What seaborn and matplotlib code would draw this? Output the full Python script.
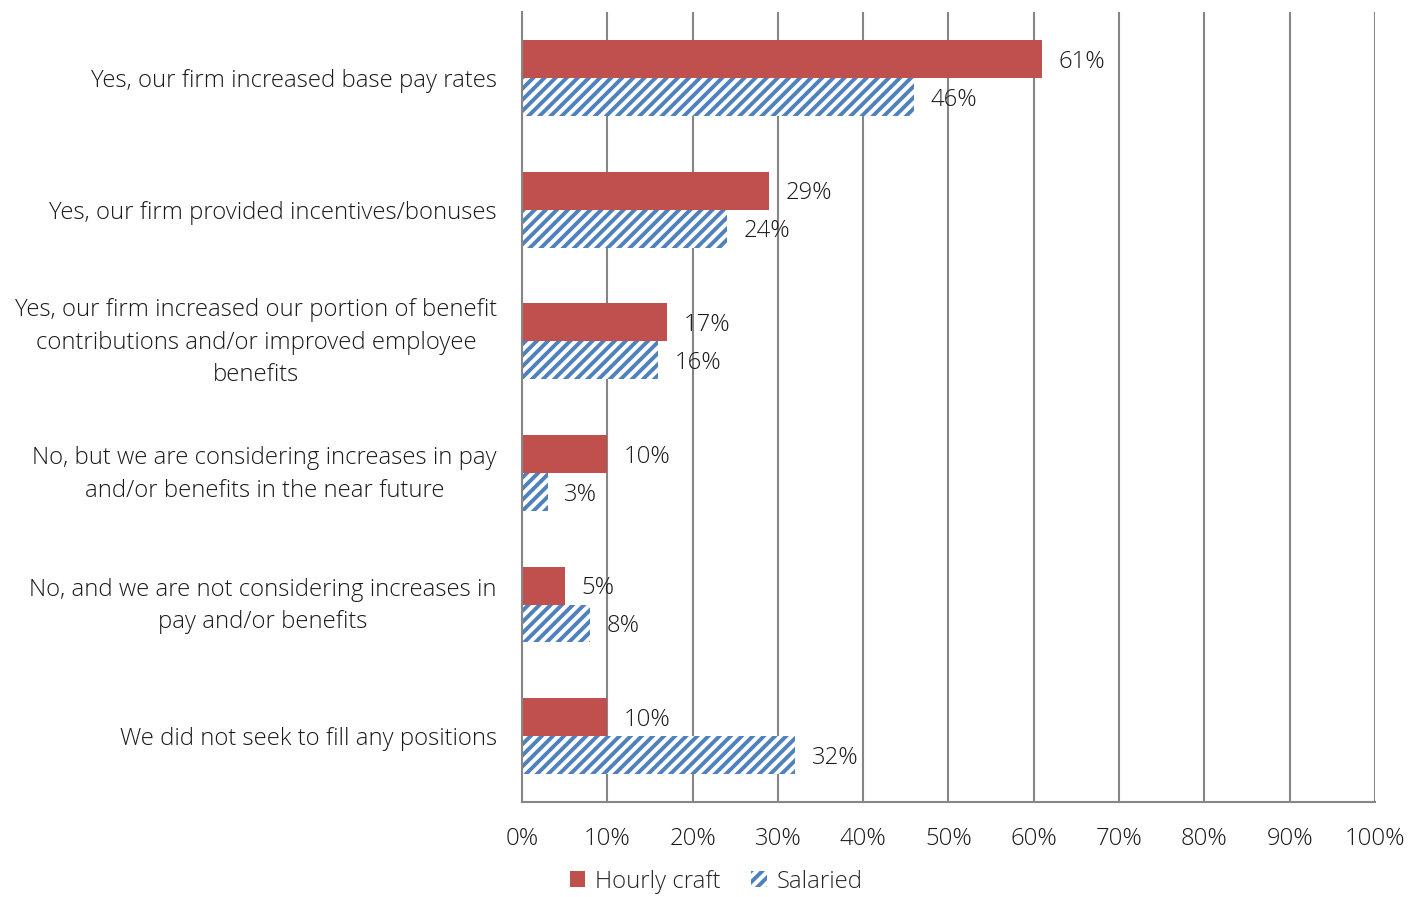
import pandas as pd
import seaborn as sns
import matplotlib.pyplot as plt
import matplotlib.transforms as mtransforms
from matplotlib.patches import Patch
from matplotlib.ticker import FixedLocator

categories = [
    "Yes, our firm increased base pay rates",
    "Yes, our firm provided incentives/bonuses",
    "Yes, our firm increased our portion of benefit\ncontributions and/or improved employee\nbenefits",
    "No, but we are considering increases in pay\nand/or benefits in the near future",
    "No, and we are not considering increases in\npay and/or benefits",
    "We did not seek to fill any positions",
]
hourly = [61, 29, 17, 10, 5, 10]
salaried = [46, 24, 16, 3, 8, 32]
series = ["Hourly craft", "Salaried"]
x_ticks = list(range(0, 101, 10))

red = "#C0504D"
blue = "#4F81BD"
grey = "#868686"
txt = "#1a1a1a"
fs = 17.2

df = pd.DataFrame({
    "category": categories * 2,
    "value": hourly + salaried,
    "series": [series[0]] * len(categories) + [series[1]] * len(categories),
})

sns.set_style("white")
plt.rcParams["font.family"] = ["Open Sans", "DejaVu Sans"]
plt.rcParams["font.weight"] = "light"
plt.rcParams["hatch.linewidth"] = 2.8
plt.rcParams["hatch.color"] = blue

fig = plt.figure(figsize=(14.21, 8.97), dpi=100)
ax = fig.add_axes([0.3673, 0.1059, 0.6003, 0.8807])

sns.barplot(data=df, y="category", x="value", hue="series", orient="h",
            palette=[red, "white"], width=0.577, saturation=1, ax=ax,
            legend=False)

# hatch the salaried bars
for bar in ax.containers[1]:
    bar.set_hatch("///")
    bar.set_edgecolor(blue)
    bar.set_linewidth(0)
for bar in ax.containers[0]:
    bar.set_linewidth(0)

for cont in ax.containers:
    labels = ax.bar_label(cont, labels=[f"{int(v)}%" for v in cont.datavalues],
                          padding=12, fontsize=fs, color=txt)
    for t in labels:
        t.xyann = (12, -2)

ax.set_xlim(0, 100)
ax.set_ylim(len(categories) - 0.5, -0.5)
ax.set_xticks(x_ticks)
ax.set_xticklabels([f"{t}%" for t in x_ticks], fontsize=fs, color=txt)
ax.xaxis.grid(True, color=grey, linewidth=1.5)
ax.set_axisbelow(True)
ax.tick_params(axis="x", length=8, width=1.5, color=grey, direction="out", pad=10)

ax.set_yticks(range(len(categories)))
ax.set_yticklabels(categories, fontsize=fs, color=txt,
                   multialignment="center", linespacing=1.47)
ax.tick_params(axis="y", which="major", length=0, pad=18)
ax.yaxis.set_minor_locator(FixedLocator([i - 0.5 for i in range(len(categories) + 1)]))
ax.tick_params(axis="y", which="minor", length=8, width=1.5, color=grey, direction="out")

# wrapped labels sit a bit high in the original
for lab in ax.get_yticklabels():
    if "\n" in lab.get_text():
        lab.set_transform(lab.get_transform() +
                          mtransforms.ScaledTranslation(0, 4 / 72, fig.dpi_scale_trans))

ax.set_xlabel("")
ax.set_ylabel("")
for side in ["top", "right"]:
    ax.spines[side].set_visible(False)
for side in ["left", "bottom"]:
    ax.spines[side].set_color(grey)
    ax.spines[side].set_linewidth(1.5)

handles = [Patch(facecolor=red, edgecolor="none"),
           Patch(facecolor="white", edgecolor=blue, hatch="///", linewidth=0)]
fig.legend(handles, series, loc="center", bbox_to_anchor=(0.504, 0.017),
           ncol=2, frameon=False, fontsize=fs, handlelength=0.65, handleheight=0.65,
           handletextpad=0.4, columnspacing=1.3)

fig.savefig("out.png", dpi=100)
